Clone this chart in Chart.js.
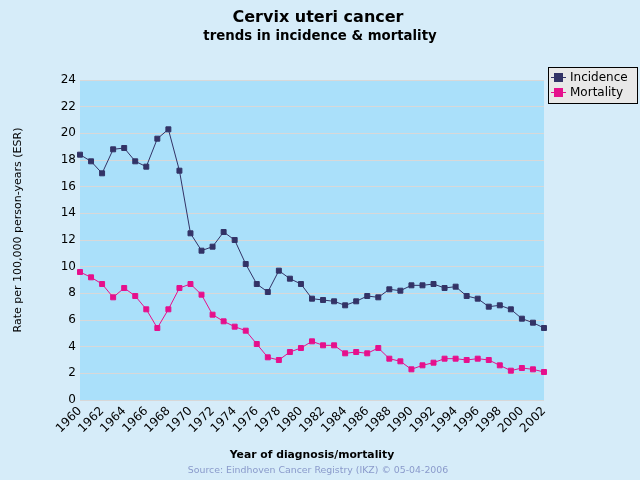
<!DOCTYPE html>
<html><head><meta charset="utf-8">
<script src="https://cdn.jsdelivr.net/npm/chart.js@4"></script>
<style>html,body{margin:0;padding:0;background:#d6ecf9;}#wrap{width:640px;height:480px;}</style>
</head><body><div id="wrap"><canvas id="c" width="640" height="480"></canvas></div>
<script>
const years = [];
for (let y = 1960; y <= 2002; y++) years.push(String(y));
const incidence = [18.4,17.9,17.0,18.8,18.9,17.9,17.5,19.6,20.3,17.2,
  12.5,11.2,11.5,12.6,12.0,10.2,8.7,8.1,9.7,9.1,
  8.7,7.6,7.5,7.4,7.1,7.4,7.8,7.7,8.3,8.2,
  8.6,8.6,8.7,8.4,8.5,7.8,7.6,7.0,7.1,6.8,
  6.1,5.8,5.4];
const mortality = [9.6,9.2,8.7,7.7,8.4,7.8,6.8,5.4,6.8,8.4,
  8.7,7.9,6.4,5.9,5.5,5.2,4.2,3.2,3.0,3.6,
  3.9,4.4,4.1,4.1,3.5,3.6,3.5,3.9,3.1,2.9,
  2.3,2.6,2.8,3.1,3.1,3.0,3.1,3.0,2.6,2.2,
  2.4,2.3,2.1];
const seriesNames = ['Incidence','Mortality'];
const titleText = 'Cervix uteri cancer';
const subtitleText = 'trends in incidence & mortality';
const xTitle = 'Year of diagnosis/mortality';
const yTitle = 'Rate per 100,000 person-years (ESR)';
const sourceText = 'Source: Eindhoven Cancer Registry (IKZ) \u00A9 05-04-2006';
const colors = ['#333366','#e6108c'];
const FONT = '"DejaVu Sans", Verdana, sans-serif';

const deco = {
  id: 'deco',
  beforeDraw(chart) {
    const {ctx, chartArea: a} = chart;
    ctx.save();
    ctx.fillStyle = '#d6ecf9';
    ctx.fillRect(0, 0, chart.width, chart.height);
    ctx.fillStyle = '#aae0fa';
    ctx.fillRect(a.left, a.top, a.right - a.left, a.bottom - a.top);
    ctx.restore();
  },
  afterDraw(chart) {
    const {ctx, chartArea: a} = chart;
    ctx.save();
    ctx.fillStyle = '#000';
    ctx.textAlign = 'center';
    ctx.textBaseline = 'middle';
    ctx.font = 'bold 16px ' + FONT;
    ctx.fillText(titleText, 318, 18);
    ctx.font = 'bold 13.3px ' + FONT;
    ctx.fillText(subtitleText, 320, 37);
    ctx.font = 'bold 10.8px ' + FONT;
    ctx.fillText(xTitle, 312, 455);
    ctx.save();
    ctx.translate(18, 230);
    ctx.rotate(-Math.PI / 2);
    ctx.font = '11px ' + FONT;
    ctx.fillText(yTitle, 0, 0);
    ctx.restore();
    ctx.font = '9.4px ' + FONT;
    ctx.fillStyle = '#8a9acb';
    ctx.fillText(sourceText, 318, 471);
    // legend
    const lx = 548, ly = 67, lw = 90, lh = 37;
    ctx.fillStyle = '#e8e8e8';
    ctx.fillRect(lx, ly, lw, lh);
    ctx.strokeStyle = '#000';
    ctx.lineWidth = 1;
    ctx.strokeRect(lx + 0.5, ly + 0.5, lw - 1, lh - 1);
    ctx.textAlign = 'left';
    ctx.font = '12px ' + FONT;
    seriesNames.forEach((n, i) => {
      const cy = ly + 10 + i * 15;
      ctx.strokeStyle = colors[i];
      ctx.beginPath();
      ctx.moveTo(lx + 3, cy + 0.5);
      ctx.lineTo(lx + 18, cy + 0.5);
      ctx.stroke();
      ctx.fillStyle = colors[i];
      ctx.fillRect(lx + 6, cy - 4, 9, 9);
      ctx.fillStyle = '#000';
      ctx.fillText(n, lx + 22, cy + 1);
    });
    ctx.restore();
  }
};

new Chart(document.getElementById('c'), {
  type: 'line',
  data: {
    labels: years,
    datasets: [
      {label: seriesNames[0], data: incidence, borderColor: colors[0], backgroundColor: colors[0],
       borderWidth: 1, pointStyle: 'rect', pointRadius: 3.5, pointHoverRadius: 3.5, tension: 0},
      {label: seriesNames[1], data: mortality, borderColor: colors[1], backgroundColor: colors[1],
       borderWidth: 1, pointStyle: 'rect', pointRadius: 3.5, pointHoverRadius: 3.5, tension: 0}
    ]
  },
  options: {
    responsive: false,
    animation: false,
    events: [],
    layout: {padding: {left: 0, top: 80, right: 96, bottom: 0}},
    plugins: {legend: {display: false}, title: {display: false}, tooltip: {enabled: false}},
    scales: {
      x: {
        type: 'category',
        offset: false,
        grid: {display: false, drawTicks: false},
        border: {display: false},
        afterFit(s) { s.height = 80; },
        ticks: {
          autoSkip: false, maxRotation: 45, minRotation: 45, padding: 4,
          color: '#000', font: {family: FONT, size: 12},
          callback(v, i) { const y = Number(years[i]); return y % 2 === 0 ? years[i] : ''; }
        }
      },
      y: {
        min: 0, max: 24,
        afterFit(s) { s.width = 80; },
        grid: {color: '#d8d8d8', drawTicks: false, lineWidth: 1},
        border: {display: false},
        ticks: {stepSize: 2, padding: 4, color: '#000', font: {family: FONT, size: 12}}
      }
    }
  },
  plugins: [deco]
});
</script></body></html>
